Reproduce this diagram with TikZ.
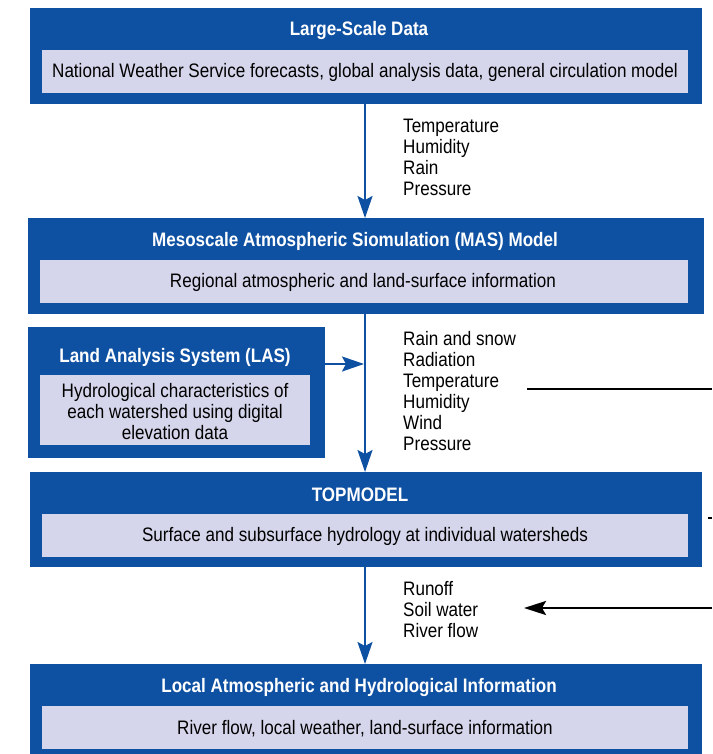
\documentclass[tikz,border=0pt]{standalone}
\usepackage{fontspec}
\setmainfont{Liberation Sans}[FakeStretch=0.875]
\usetikzlibrary{arrows.meta,calc}
\definecolor{dblue}{RGB}{14,80,162}
\definecolor{lav}{RGB}{213,214,235}
\begin{document}
\begin{tikzpicture}[x=1pt,y=-1pt,
  box/.style={fill=dblue, draw=none, anchor=north west, inner sep=0pt, outer sep=0pt},
  ibox/.style={fill=lav, draw=none, anchor=north west, inner sep=0pt, outer sep=0pt},
  ttl/.style={text=white, font=\bfseries\fontsize{19.5}{21}\selectfont, inner sep=0pt},
  txt/.style={text=black, font=\fontsize{19.5}{21}\selectfont, inner sep=0pt},
  lbl/.style={text=black, font=\fontsize{19.5}{21}\selectfont, align=left, anchor=west, inner sep=0pt},
  flow/.style={draw=dblue, line width=2.2pt, -{Stealth[length=22pt,width=15pt,inset=4pt]}},
  blk/.style={draw=black, line width=2.4pt}]
\useasboundingbox (0,0) rectangle (712,754);
% boxes
\node[box, minimum width=672pt, minimum height=96pt] (b1) at (30,8) {};
\node[ibox, minimum width=646pt, minimum height=43pt] (b1i) at (42,50) {};
\node[ttl] (b1t) at (359,31) {Large-Scale Data};
\node[txt] (b1x) at ($(b1i.center)+(0,1)$) {National Weather Service forecasts, global analysis data, general circulation model};

\node[box, minimum width=676pt, minimum height=96pt] (b2) at (28,218) {};
\node[ibox, minimum width=648pt, minimum height=43pt] (b2i) at (40,260) {};
\node[ttl] (b2t) at (355,241) {Mesoscale Atmospheric Siomulation (MAS) Model};
\node[txt] (b2x) at ($(b2i.center)+(-1,1)$) {Regional atmospheric and land-surface information};

\node[box, minimum width=297pt, minimum height=131pt] (las) at (28,327) {};
\node[ibox, minimum width=270pt, minimum height=70pt] (lasi) at (40,375) {};
\node[ttl] (last) at (175,357) {Land Analysis System (LAS)};
\node[txt, align=center] (lasx) at ($(lasi.center)+(0,2)$) {Hydrological characteristics of\\ each watershed using digital\\ elevation data};

\node[box, minimum width=672pt, minimum height=95pt] (b3) at (30,472) {};
\node[ibox, minimum width=646pt, minimum height=43pt] (b3i) at (42,514) {};
\node[ttl] (b3t) at (360,495) {TOPMODEL};
\node[txt] (b3x) at ($(b3i.center)+(0,1)$) {Surface and subsurface hydrology at individual watersheds};

\node[box, minimum width=672pt, minimum height=90pt] (b4) at (30,664) {};
\node[ibox, minimum width=646pt, minimum height=43pt] (b4i) at (42,706) {};
\node[ttl] (b4t) at (359,687) {Local Atmospheric and Hydrological Information};
\node[txt] (b4x) at ($(b4i.center)+(0,1)$) {River flow, local weather, land-surface information};

% labels
\node[lbl] (l1) at (403,157) {Temperature\\ Humidity\\ Rain\\ Pressure};
\node[lbl] (l2) at (403,391) {Rain and snow\\ Radiation\\ Temperature\\ Humidity\\ Wind\\ Pressure};
\node[lbl] (l3) at (403,610) {Runoff\\ Soil water\\ River flow};

% flow arrows
\coordinate (ax) at (365,0);
\draw[flow] (b1.south -| ax) -- (b2.north -| ax);
\draw[flow] (b2.south -| ax) -- (b3.north -| ax);
\draw[flow] (b3.south -| ax) -- (b4.north -| ax);
\coordinate (lasy) at (0,364);
\draw[flow, shorten >=1pt] (las.east |- lasy) -- (ax |- lasy);

% black lines at right
\coordinate (r1a) at (527,389);
\coordinate (r1b) at (712,389);
\draw[blk] (r1a) -- (r1b);
\coordinate (r2a) at (712,608);
\coordinate (r2b) at (524,608);
\draw[blk, -{Stealth[length=22pt,width=14pt,inset=4pt]}] (r2a) -- (r2b);
\coordinate (r3a) at (708,518);
\coordinate (r3b) at (712,518);
\draw[blk] (r3a) -- (r3b);
\end{tikzpicture}
\end{document}
